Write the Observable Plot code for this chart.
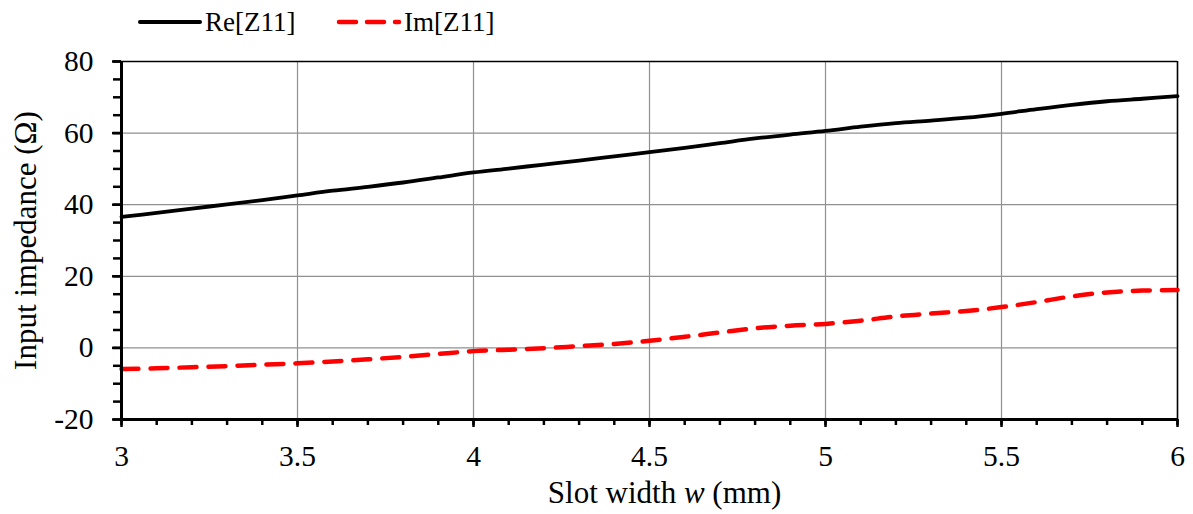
<!DOCTYPE html>
<html>
<head>
<meta charset="utf-8">
<script src="https://cdn.jsdelivr.net/npm/d3@7"></script>
<script src="https://cdn.jsdelivr.net/npm/@observablehq/plot@0.6"></script>
<style>
  html, body { margin: 0; padding: 0; background: #fff; }
  body { width: 1193px; height: 514px; overflow: hidden; font-family: "Liberation Serif", "Times New Roman", serif; }
  #legend { position: relative; height: 44px; font-size: 27px; color: #000; }
  #legend .item { position: absolute; top: 4px; display: flex; align-items: center; }
  #legend svg { display: block; }
  #chart svg { display: block; }
  #chart svg text { font-family: "Liberation Serif", "Times New Roman", serif; }
</style>
</head>
<body>
<div id="legend"></div>
<div id="chart"></div>
<script>
// ---- data ----
const slotWidth = [3.0, 3.1, 3.2, 3.3, 3.4, 3.5, 3.6, 3.7, 3.8, 3.9, 4.0, 4.1, 4.2, 4.3, 4.4, 4.5,
                   4.6, 4.7, 4.8, 4.9, 5.0, 5.1, 5.2, 5.3, 5.4, 5.5, 5.6, 5.7, 5.8, 5.9, 6.0];
const reZ11 = [36.6, 37.7, 38.9, 40.1, 41.3, 42.6, 43.9, 45.0, 46.2, 47.6, 49.0, 50.1, 51.2, 52.3, 53.5, 54.7,
               55.9, 57.2, 58.5, 59.6, 60.6, 61.8, 62.8, 63.5, 64.3, 65.4, 66.7, 67.9, 68.9, 69.6, 70.3];
const imZ11 = [-5.9, -5.7, -5.4, -5.1, -4.7, -4.3, -3.8, -3.2, -2.5, -1.7, -0.9, -0.5, -0.1, 0.5, 1.1, 2.0,
               3.1, 4.3, 5.5, 6.2, 6.7, 7.6, 8.8, 9.6, 10.3, 11.4, 12.8, 14.4, 15.5, 16.0, 16.2];
const seriesNames = ["Re[Z11]", "Im[Z11]"];
const xTickLabels = [3, 3.5, 4, 4.5, 5, 5.5, 6];
const yTickLabels = [-20, 0, 20, 40, 60, 80];
const xMinorTicks = d3.range(30, 61, 1).map(d => d / 10);
const yMinorTicks = d3.range(-20, 81, 5);
const xLabel = "Slot width w (mm)";
const yLabel = "Input impedance (Ω)";

const rows = slotWidth.map((x, i) => ({x, re: reZ11[i], im: imZ11[i]}));
const serif = "'Liberation Serif', 'Times New Roman', serif";

// ---- legend ----
const legend = document.getElementById("legend");
const legendItems = [
  {name: seriesNames[0], left: 137, stroke: "#000", dash: null, w: 4},
  {name: seriesNames[1], left: 336, stroke: "#ff0000", dash: "17,11", w: 4.5}
];
for (const it of legendItems) {
  const div = document.createElement("div");
  div.className = "item";
  div.style.left = it.left + "px";
  const sw = d3.create("svg").attr("width", 66).attr("height", 36);
  sw.append("line").attr("x1", 3).attr("x2", 63).attr("y1", 18).attr("y2", 18)
    .attr("stroke", it.stroke).attr("stroke-width", it.w)
    .attr("stroke-dasharray", it.dash).attr("stroke-linecap", "round");
  div.appendChild(sw.node());
  const span = document.createElement("span");
  span.textContent = it.name;
  span.style.marginLeft = "2px";
  div.appendChild(span);
  legend.appendChild(div);
}

// ---- chart ----
const chart = Plot.plot({
  width: 1193,
  height: 470,
  marginLeft: 121,
  marginRight: 16,
  marginTop: 17,
  marginBottom: 95,
  style: {fontFamily: serif, fontSize: "29.5px", color: "#000", background: "#fff"},
  x: {domain: [3, 6]},
  y: {domain: [-20, 80]},
  marks: [
    Plot.gridX([3.5, 4, 4.5, 5, 5.5], {stroke: "#909090", strokeOpacity: 1, strokeWidth: 1.2}),
    Plot.gridY([0, 20, 40, 60], {stroke: "#909090", strokeOpacity: 1, strokeWidth: 1.2}),
    Plot.ruleY([80], {stroke: "#000", strokeWidth: 1.6}),
    Plot.ruleX([6], {stroke: "#000", strokeWidth: 1.6}),
    Plot.line(rows, {x: "x", y: "re", stroke: "#000", strokeWidth: 3.8, curve: "catmull-rom"}),
    Plot.line(rows, {x: "x", y: "im", stroke: "#ff0000", strokeWidth: 4.5, strokeDasharray: "17,12", curve: "catmull-rom"}),
    // minor ticks
    Plot.axisX(xMinorTicks, {tickSize: 6, strokeWidth: 2.5, label: null, text: null}),
    Plot.axisY(yMinorTicks, {tickSize: 8, strokeWidth: 2.5, label: null, text: null}),
    // major ticks
    Plot.axisX(xTickLabels, {tickSize: 8, strokeWidth: 2.5, label: null, text: null}),
    Plot.axisY(yTickLabels, {tickSize: 9, strokeWidth: 2.5, label: null, text: null}),
    // tick labels
    Plot.text(xTickLabels, {x: d => d, text: d => String(d), frameAnchor: "bottom", dy: 37, lineAnchor: "middle", textAnchor: "middle", fontSize: 29.5, fontFamily: serif, fill: "#000"}),
    Plot.text(yTickLabels, {y: d => d, text: d => String(d), frameAnchor: "left", dx: -28, lineAnchor: "middle", textAnchor: "end", fontSize: 29.5, fontFamily: serif, fill: "#000"}),
    // axis lines
    Plot.ruleX([3], {stroke: "#000", strokeWidth: 3}),
    Plot.ruleY([-20], {stroke: "#000", strokeWidth: 3}),
    // axis titles
    Plot.text([yLabel], {frameAnchor: "left", text: d => d, rotate: -90, dx: -95, fontSize: 31, fontFamily: serif, lineAnchor: "middle", textAnchor: "middle", fill: "#000"}),
    Plot.text([xLabel], {frameAnchor: "bottom", text: d => d, dx: 15, dy: 74, fontSize: 31, fontFamily: serif, lineAnchor: "middle", textAnchor: "middle", fill: "#000"})
  ]
});
document.getElementById("chart").appendChild(chart);

// italicize the "w" in the x-axis title
d3.select(chart).selectAll("text").each(function() {
  const t = d3.select(this);
  if (t.text() === xLabel) {
    t.text(null);
    t.append("tspan").text("Slot width ");
    t.append("tspan").attr("font-style", "italic").text("w");
    t.append("tspan").text(" (mm)");
  }
});
</script>
</body>
</html>
